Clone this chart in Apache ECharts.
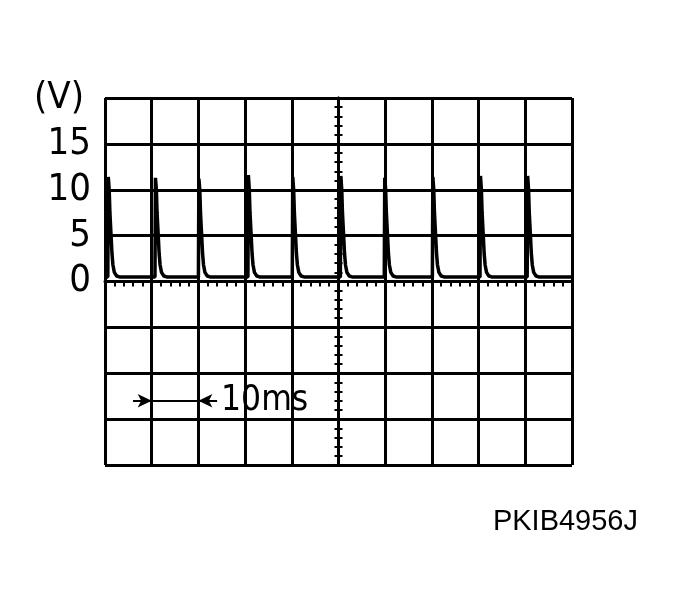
<!DOCTYPE html>
<html>
<head>
<meta charset="utf-8">
<script src="https://cdn.jsdelivr.net/npm/echarts@6/dist/echarts.min.js"></script>
<style>html,body{margin:0;padding:0;background:#fff;}#c{width:679px;height:606px;}</style>
</head>
<body>
<div id="c"></div>
<script>
// Readings (time in ms relative to screen centre, voltage in V)
const pulsePeakTimes = [-49.3, -39.2, -29.9, -19.3, -9.8, 0.5, 9.9, 20.2, 30.4, 40.5];
const pulsePeakVolts = [11.4, 11.3, 11.2, 11.6, 11.4, 11.5, 11.3, 11.4, 11.5, 11.5];
// Shape of one pulse: offset from peak (ms) and voltage (V); null = the peak
const pulseOffsets = [-0.1, 0, 0.2, 0.35, 0.6, 0.8, 1.0, 1.3, 1.8, 2.4];
const pulseVolts   = [0.5, null, 10, 7.5, 5, 3, 1.8, 1.0, 0.6, 0.5];
const baselineVolt = 0.5;
const timeRange = [-50, 50];
const voltRange = [-20, 20];
const voltLabels = ['0', '5', '10', '15'];
const unitLabel = '(V)';
const scaleText = '10ms';
const scaleFrom = -40, scaleTo = -30, scaleVolt = -13;
const figureCode = 'PKIB4956J';

const trace = [[timeRange[0], baselineVolt]];
pulsePeakTimes.forEach((tp, i) => {
  pulseOffsets.forEach((dt, j) => {
    trace.push([tp + dt, pulseVolts[j] === null ? pulsePeakVolts[i] : pulseVolts[j]]);
  });
});
trace.push([timeRange[1], baselineVolt]);

const FONT = "'Liberation Sans Narrow','DejaVu Sans Condensed','Liberation Sans',sans-serif";
const black = '#000';

const chart = echarts.init(document.getElementById('c'), null, {renderer: 'canvas'});
const centreAxis = (pos) => ({
  type: 'value', min: voltRange[0], max: voltRange[1], interval: 5, position: pos,
  axisLine: {show: true, onZero: true, onZeroAxisIndex: 0, lineStyle: {color: black, width: 3}},
  axisTick: {show: true, length: 4, lineStyle: {color: black, width: 2}},
  minorTick: {show: true, splitNumber: 5, length: 4, lineStyle: {color: black, width: 2}},
  axisLabel: {show: false}, splitLine: {show: false}
});
chart.setOption({
  animation: false,
  backgroundColor: '#fff',
  title: {
    text: figureCode, right: 36, top: 502,
    textStyle: {fontFamily: "'Liberation Sans',Arial,sans-serif", fontSize: 29, fontWeight: 'normal', color: black}
  },
  grid: {left: 105, top: 98, width: 467, height: 367, show: false},
  xAxis: {
    type: 'value', min: timeRange[0], max: timeRange[1], interval: 10,
    axisLine: {show: true, onZero: true, onZeroAxisIndex: 0, lineStyle: {color: black, width: 3}},
    axisTick: {show: true, length: 5, lineStyle: {color: black, width: 2}},
    minorTick: {show: true, splitNumber: 5, length: 5, lineStyle: {color: black, width: 2}},
    axisLabel: {show: false},
    splitLine: {show: true, lineStyle: {color: black, width: 3}}
  },
  yAxis: [
    {
      type: 'value', min: voltRange[0], max: voltRange[1], interval: 5, position: 'left',
      axisLine: {show: false, onZero: false}, axisTick: {show: false},
      axisLabel: {
        margin: 14, color: black, fontFamily: FONT, fontSize: 38,
        formatter: (v) => v === voltRange[1] ? '{u|' + unitLabel + '}' : (voltLabels.includes(String(v)) ? String(v) : ''),
        rich: {u: {fontFamily: FONT, fontSize: 38, color: black, padding: [0, 7, 0, 0]}}
      },
      splitLine: {show: true, lineStyle: {color: black, width: 3}}
    },
    centreAxis('left'),
    centreAxis('right')
  ],
  series: [{
    type: 'line', xAxisIndex: 0, yAxisIndex: 0, data: trace,
    showSymbol: false, symbol: 'none', sampling: null,
    lineStyle: {color: black, width: 3.5},
    markLine: {
      silent: true, animation: false,
      symbol: ['none', 'arrow'], symbolSize: [10, 14],
      lineStyle: {color: black, width: 2, type: 'solid'},
      label: {show: false},
      data: [
        [{coord: [scaleFrom - 4, scaleVolt]}, {coord: [scaleFrom, scaleVolt]}],
        [{coord: [scaleFrom, scaleVolt], symbol: 'none'}, {coord: [scaleTo, scaleVolt], symbol: 'none'}],
        [{coord: [scaleTo + 4, scaleVolt],
          label: {show: true, position: 'start', distance: 4, formatter: scaleText,
                  fontFamily: FONT, fontSize: 35, color: black}},
         {coord: [scaleTo, scaleVolt]}]
      ]
    }
  }]
});
</script>
</body>
</html>
